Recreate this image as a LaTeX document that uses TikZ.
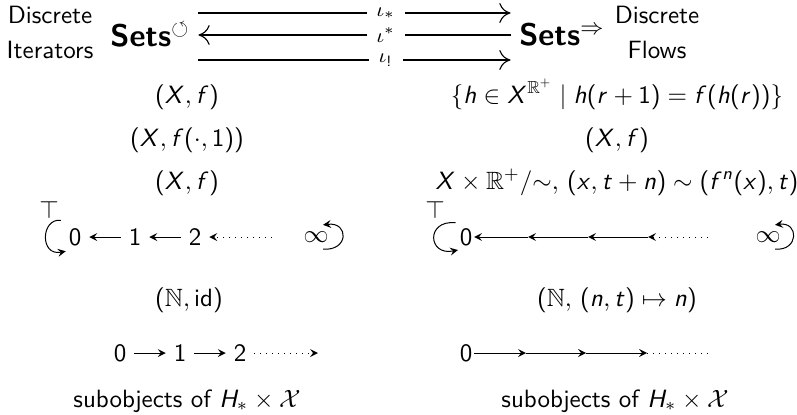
\documentclass[tikz,border=0pt]{standalone}
\usepackage{amsmath,amssymb}
\renewcommand{\familydefault}{\sfdefault}
\DeclareSymbolFont{operators}{OT1}{cmss}{m}{n}
\DeclareSymbolFont{sfslant}{OT1}{cmss}{m}{sl}
\DeclareMathSymbol{X}{\mathalpha}{sfslant}{`X}
\DeclareMathSymbol{H}{\mathalpha}{sfslant}{`H}
\DeclareMathSymbol{f}{\mathalpha}{sfslant}{`f}
\DeclareMathSymbol{h}{\mathalpha}{sfslant}{`h}
\DeclareMathSymbol{n}{\mathalpha}{sfslant}{`n}
\DeclareMathSymbol{r}{\mathalpha}{sfslant}{`r}
\DeclareMathSymbol{t}{\mathalpha}{sfslant}{`t}
\DeclareMathSymbol{x}{\mathalpha}{sfslant}{`x}
\usetikzlibrary{arrows.meta}

\begin{document}
\begin{tikzpicture}[x=0.4pt, y=0.4pt, >=stealth,
    bigarr/.style={line width=0.9pt},
    bighead/.style={-{To[line width=0.45pt,length=4.5pt,width=8pt]}},
    lbl/.style={fill=white, inner xsep=4pt, inner ysep=1.5pt, font=\footnotesize},
    pt/.style={inner sep=3pt},
    inf/.style={inner xsep=1pt, inner ysep=2.5pt},
    setsnode/.style={font=\fontsize{12.5}{15}\selectfont},
    row/.style={anchor=base}]
    \useasboundingbox (0,0) rectangle (797,414);

    \node[align=center] (di) at (50,382) {Discrete\\[2pt]Iterators};
    \node[setsnode] (si) at (150,379) {\textbf{Sets}$^{\circlearrowleft}$};
    \node[setsnode] (sf) at (562,379) {\textbf{Sets}$^{\Rightarrow}$};
    \node[align=center] (df) at (657,382) {Discrete\\[2pt]Flows};

    \draw[bigarr,bighead] ([yshift=8.8pt]si.east) -- ([yshift=8.8pt]sf.west)
        node[lbl,pos=0.6] {$\iota_*$};
    \draw[bigarr,{To[line width=0.45pt,length=4.5pt,width=8pt]}-] (si) -- (sf)
        node[lbl,pos=0.6] {$\iota^*$};
    \draw[bigarr,bighead] ([yshift=-10pt]si.east) -- ([yshift=-10pt]sf.west)
        node[lbl,pos=0.6] {$\iota_!$};

    \node[row] (lx1) at (187,311) {$(X,f)$};
    \node[row] (lx2) at (187,268) {$(X,f(\cdot,1))$};
    \node[row] (lx3) at (187,225) {$(X,f)$};
    \node[row] (rx1) at (617,311) {$\{h\in X^{\mathbb{R}^+}\mid h(r+1)=f(h(r))\}$};
    \node[row] (rx2) at (617,268) {$(X,f)$};
    \node[row] (rx3) at (617,225) {$X\times\mathbb{R}^+/{\sim},\,(x,t+n)\sim(f^n(x),t)$};

    \node (ltop) at (49,204) {$\top$};
    \node (rtop) at (435,204) {$\top$};

    \node[pt] (l0) at (75,177) {0};
    \node[pt] (l1) at (135,177) {1};
    \node[pt] (l2) at (195,177) {2};
    \coordinate (ld) at (272,177);
    \node[inf] (linf) at (316,177) {$\infty$};
    \draw[->] (l1) -- (l0);
    \draw[->] (l2) -- (l1);
    \draw[->,dotted] (ld) -- (l2);
    \draw[->] (l0.north west) .. controls +(-20,2) and +(-26,-5) .. ([shift={(2pt,1pt)}]l0.south west);
    \draw[->] (linf.-60) .. controls +(26,-2) and +(26,3) .. (linf.60);

    \node[inner sep=0.5pt] (r0) at (466,177) {0};
    \coordinate (ra) at (528,177);
    \coordinate (rb) at (588,177);
    \coordinate (rc) at (648,177);
    \coordinate (rd) at (708,177);
    \node[inf] (rinf) at (768,177) {$\infty$};
    \draw[->] (ra) -- (r0);
    \draw[->] (rb) -- (ra);
    \draw[->] (rc) -- (rb);
    \draw[->,dotted] (rd) -- (rc);
    \draw[->] ([shift={(-1pt,1.5pt)}]r0.north west) .. controls +(-30,3) and +(-30,-6) .. ([yshift=-1pt]r0.south west);
    \draw[->] (rinf.-60) .. controls +(24,-2) and +(24,3) .. (rinf.60);

    \node (lnat) at (189,114) {$(\mathbb{N},\textnormal{id})$};
    \node (rnat) at (617,114) {$(\mathbb{N},\,(n,t)\mapsto n)$};

    \node[pt] (b0) at (120,61) {0};
    \node[pt] (b1) at (180,61) {1};
    \node[pt] (b2) at (240,61) {2};
    \coordinate (bd) at (318,61);
    \draw[->] (b0) -- (b1);
    \draw[->] (b1) -- (b2);
    \draw[->,dotted] (b2) -- (bd);

    \node[inner sep=0.5pt] (s0) at (466,61) {0};
    \coordinate (sa) at (526,61);
    \coordinate (sb) at (586,61);
    \coordinate (sc) at (647,61);
    \coordinate (sd) at (708,61);
    \draw[->] (s0) -- (sa);
    \draw[->] (sa) -- (sb);
    \draw[->] (sb) -- (sc);
    \draw[dotted] (sc) -- (sd);

    \node[row] (lsub) at (187,7) {subobjects of $H_*\times\mathcal{X}$};
    \node[row] (rsub) at (615,7) {subobjects of $H_*\times\mathcal{X}$};
\end{tikzpicture}
\end{document}
